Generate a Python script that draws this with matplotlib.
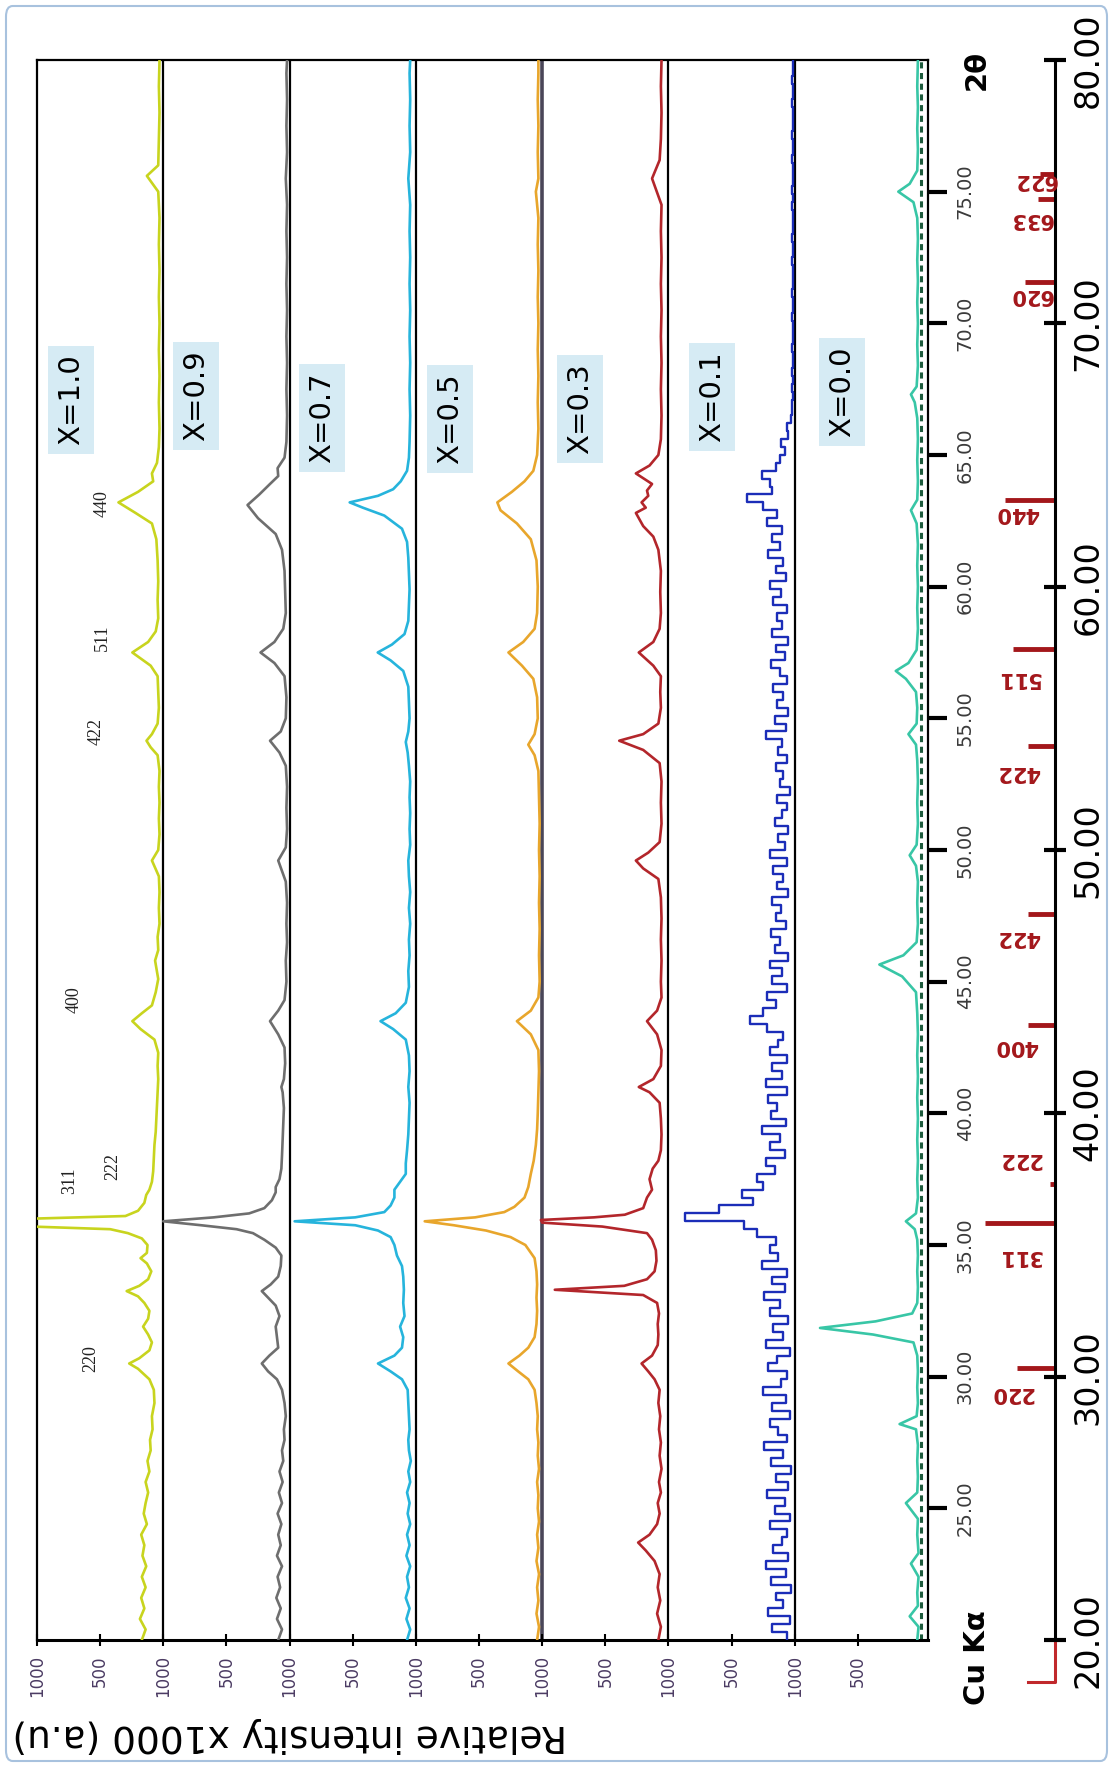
import numpy as np
import matplotlib.pyplot as plt
from matplotlib.patches import FancyBboxPatch

# ---- data: (2theta, intensity above own baseline) ----
x10 = [(20.0,170),(20.4,140),(20.8,185),(21.2,150),(21.6,175),(22.0,140),(22.4,170),(22.8,135),(23.2,165),
       (23.6,150),(24.0,175),(24.4,130),(24.8,155),(25.2,140),(25.6,120),(26.0,140),(26.4,110),(26.8,125),
       (27.2,100),(27.6,105),(28.0,85),(28.5,90),(29.0,70),(29.5,75),(29.9,110),(30.3,200),(30.5,270),
       (30.7,190),(31.0,110),(31.3,90),(31.6,120),(31.9,160),(32.2,120),(32.5,110),(32.8,150),(33.05,200),
       (33.25,290),(33.45,190),(33.7,120),(34.0,95),(34.3,130),(34.5,180),(34.7,130),(35.0,125),(35.25,170),
       (35.45,280),(35.6,420),(35.7,1040),(36.0,1040),(36.1,300),(36.3,200),(36.6,150),(36.9,135),(37.1,110),
       (37.4,90),(37.8,80),(38.3,75),(38.8,70),(39.3,60),(39.8,55),(40.3,50),(40.8,45),(41.3,40),(41.8,45),
       (42.3,40),(42.8,70),(43.2,180),(43.5,245),(43.8,170),(44.1,90),(44.6,60),(45.1,40),(45.8,65),(46.2,40),
       (46.7,45),(47.2,30),(47.8,35),(48.4,30),(49.0,35),(49.6,90),(50.0,40),(50.6,30),(51.2,35),(51.8,30),
       (52.4,35),(53.0,30),(53.6,45),(53.9,100),(54.15,133),(54.4,90),(54.8,45),(55.4,35),(56.0,40),(56.6,45),
       (57.0,100),(57.5,245),(57.9,120),(58.3,60),(58.8,40),(59.5,45),(60.2,40),(61.0,45),(61.8,55),(62.4,90),
       (62.8,220),(63.2,355),(63.6,200),(64.0,80),(64.3,90),(64.7,50),(65.3,35),(66.0,30),(67.0,35),(68.0,30),
       (69.0,35),(70.0,30),(71.0,35),(72.0,30),(73.0,35),(74.0,30),(75.0,40),(75.6,130),(76.0,40),(77.0,35),
       (78.0,30),(79.0,35),(80.0,30)]

x09 = [(20.0,90),(20.4,60),(20.8,100),(21.2,70),(21.6,105),(22.0,75),(22.4,95),(22.8,60),(23.2,100),(23.6,70),
       (24.0,90),(24.4,65),(24.8,95),(25.2,60),(25.6,85),(26.0,55),(26.4,80),(26.8,50),(27.2,60),(27.6,40),
       (28.0,45),(28.5,30),(29.0,40),(29.5,60),(29.9,100),(30.2,170),(30.5,220),(30.8,160),(31.1,90),(31.5,100),
       (31.9,110),(32.3,80),(32.7,110),(33.0,170),(33.25,220),(33.5,150),(33.8,90),(34.2,70),(34.6,65),(34.9,110),
       (35.2,200),(35.45,290),(35.6,420),(35.75,700),(35.9,1000),(36.05,600),(36.2,320),(36.4,200),(36.7,140),
       (37.0,110),(37.2,110),(37.5,80),(37.9,65),(38.4,60),(39.0,55),(39.6,50),(40.2,45),(40.8,55),(41.0,65),
       (41.3,45),(41.9,35),(42.5,40),(43.0,90),(43.5,155),(43.9,90),(44.3,40),(45.0,25),(45.8,30),(46.5,20),
       (47.2,25),(48.0,20),(48.8,30),(49.6,90),(50.1,30),(50.8,20),(51.6,25),(52.4,20),(53.2,30),(53.7,80),
       (54.15,155),(54.5,70),(55.0,30),(55.8,25),(56.6,40),(57.1,120),(57.5,230),(57.9,120),(58.4,50),(59.0,30),
       (59.8,35),(60.6,40),(61.4,60),(62.0,110),(62.6,250),(63.1,333),(63.5,240),(63.9,155),(64.2,90),(64.5,95),
       (64.9,40),(65.5,25),(66.5,20),(67.5,25),(68.5,20),(69.5,25),(70.5,20),(71.5,25),(72.5,20),(73.5,25),
       (74.5,20),(75.5,30),(76.5,20),(77.5,25),(78.5,20),(79.5,25),(80.0,20)]

x07 = [(20.0,70),(20.4,45),(20.8,75),(21.2,50),(21.6,80),(22.0,55),(22.4,70),(22.8,45),(23.2,75),(23.6,50),
       (24.0,70),(24.4,45),(24.8,65),(25.2,50),(25.6,70),(26.0,45),(26.4,60),(26.8,40),(27.2,55),(27.6,60),
       (28.0,50),(28.5,55),(29.0,60),(29.5,65),(29.9,110),(30.2,200),(30.5,300),(30.8,170),(31.1,110),(31.5,100),
       (31.9,125),(32.3,90),(32.8,100),(33.3,95),(33.8,100),(34.2,110),(34.6,150),(35.0,170),(35.3,200),
       (35.55,300),(35.75,480),(35.9,960),(36.05,480),(36.25,250),(36.5,200),(36.8,170),(37.1,170),(37.4,125),
       (37.7,80),(38.1,80),(38.6,70),(39.2,60),(39.8,55),(40.4,50),(41.0,60),(41.6,50),(42.2,55),(42.8,80),
       (43.2,180),(43.5,280),(43.8,160),(44.2,80),(44.8,55),(45.4,60),(46.0,50),(46.6,55),(47.2,45),(47.8,55),
       (48.4,45),(49.0,55),(49.6,60),(50.2,45),(50.8,50),(51.4,45),(52.0,50),(52.6,45),(53.2,55),(53.7,65),
       (54.1,80),(54.5,60),(55.0,50),(55.6,55),(56.2,60),(56.8,100),(57.2,200),(57.5,302),(57.8,190),(58.2,90),
       (58.7,60),(59.3,55),(59.9,50),(60.5,55),(61.1,60),(61.7,70),(62.2,110),(62.7,250),(63.0,420),(63.2,524),
       (63.45,300),(63.7,180),(64.0,120),(64.4,70),(64.9,55),(65.5,50),(66.5,45),(67.5,50),(68.5,45),(69.5,50),
       (70.5,45),(71.5,50),(72.5,45),(73.5,50),(74.5,45),(75.5,60),(76.5,45),(77.5,50),(78.5,45),(79.5,50),
       (80.0,45)]

x05 = [(20.0,40),(20.5,25),(21.0,45),(21.5,30),(22.0,40),(22.5,25),(23.0,45),(23.5,30),(24.0,40),(24.5,25),
       (25.0,35),(25.5,30),(26.0,40),(26.5,25),(27.0,35),(27.5,30),(28.0,40),(28.5,35),(29.0,45),(29.5,60),
       (29.9,110),(30.2,190),(30.5,267),(30.8,180),(31.1,110),(31.5,60),(32.0,45),(32.5,40),(33.0,45),(33.5,40),
       (34.0,45),(34.5,60),(35.0,133),(35.3,250),(35.55,445),(35.75,700),(35.9,930),(36.05,530),(36.25,300),
       (36.45,220),(36.8,140),(37.2,110),(37.7,90),(38.2,67),(38.8,50),(39.4,40),(40.0,35),(40.8,30),(41.6,25),
       (42.4,30),(43.0,90),(43.5,200),(43.9,90),(44.4,30),(45.0,20),(46.0,25),(47.0,20),(48.0,25),(49.0,20),
       (50.0,25),(51.0,20),(52.0,25),(53.0,30),(53.6,60),(54.0,110),(54.4,60),(55.0,35),(55.8,40),(56.5,70),
       (57.0,160),(57.5,267),(57.9,150),(58.4,60),(59.0,40),(60.0,35),(61.0,45),(61.8,90),(62.4,200),(62.9,330),
       (63.2,355),(63.6,240),(64.0,140),(64.4,70),(65.0,40),(66.0,30),(67.0,35),(68.0,30),(69.0,35),(70.0,30),
       (71.0,35),(72.0,30),(73.0,35),(74.0,30),(75.0,50),(75.5,30),(76.5,35),(77.5,30),(78.5,35),(79.5,30),
       (80.0,30)]

x03 = [(20.0,80),(20.5,60),(21.0,90),(21.5,65),(22.0,85),(22.5,70),(23.0,110),(23.4,180),(23.7,240),(24.0,150),
       (24.4,90),(24.8,70),(25.2,85),(25.6,60),(26.0,75),(26.5,55),(27.0,70),(27.5,60),(28.0,75),(28.5,65),
       (29.0,80),(29.5,70),(29.9,110),(30.2,160),(30.5,213),(30.8,130),(31.2,85),(31.6,80),(32.0,85),(32.4,75),
       (32.8,90),(33.1,200),(33.3,900),(33.45,350),(33.7,170),(34.0,110),(34.4,95),(34.8,100),(35.2,130),
       (35.45,170),(35.7,524),(35.85,1000),(35.95,1010),(36.05,590),(36.15,346),(36.4,200),(36.8,170),(37.1,130),
       (37.5,150),(37.9,125),(38.2,80),(38.6,60),(39.2,55),(39.8,60),(40.4,70),(40.8,150),(41.0,235),(41.3,120),
       (41.8,60),(42.4,55),(43.0,90),(43.5,170),(43.9,90),(44.4,55),(45.0,60),(45.8,55),(46.6,60),(47.4,55),
       (48.2,60),(48.9,80),(49.3,200),(49.6,258),(49.9,160),(50.3,70),(51.0,55),(51.8,60),(52.6,55),(53.3,70),
       (53.8,200),(54.15,390),(54.4,200),(54.8,80),(55.4,60),(56.0,65),(56.6,60),(57.0,120),(57.5,235),(57.9,120),
       (58.4,70),(59.0,60),(59.8,65),(60.6,60),(61.4,80),(61.9,120),(62.3,200),(62.8,258),(63.0,180),(63.2,213),
       (63.45,160),(63.65,170),(63.9,130),(64.3,258),(64.6,150),(65.0,80),(65.6,60),(66.5,55),(67.5,60),
       (68.5,55),(69.5,60),(70.5,55),(71.5,60),(72.5,55),(73.5,60),(74.5,55),(75.5,130),(76.2,70),(77.0,60),
       (78.0,55),(79.0,60),(80.0,55)]

# X=0.1 is a noisy step trace, 0.3 deg steps from 20 to 80
t01 = np.arange(20.0, 80.01, 0.3)
x01 = [60, 180, 40, 210, 90, 150, 30, 190, 70, 230,
       50, 170, 100, 60, 200, 40, 160, 80, 220, 50,
       150, 30, 190, 90, 240, 60, 130, 200, 40, 180,
       70, 250, 110, 60, 210, 140, 40, 230, 90, 170,
       50, 200, 120, 240, 80, 180, 60, 260, 130, 200,
       150, 300, 400, 867, 600, 330, 420, 250, 300, 160,
       230, 80, 200, 120, 260, 70, 190, 140, 210, 60,
       230, 100, 180, 60, 200, 130, 90, 220, 355, 250,
       150, 220, 60, 180, 100, 200, 50, 160, 120, 190,
       70, 150, 110, 180, 50, 140, 90, 170, 60, 200,
       80, 130, 50, 160, 100, 60, 140, 40, 120, 90,
       150, 60, 130, 100, 230, 70, 160, 50, 140, 90,
       170, 60, 120, 190, 80, 150, 50, 180, 100, 140,
       60, 170, 110, 200, 70, 150, 90, 210, 120, 180,
       100, 220, 140, 250, 377, 180, 200, 260, 150, 120,
       80, 110, 50, 60, 30, 20, 25, 15, 20, 12,
       18, 10, 15, 20, 12, 16, 10, 18, 14, 12,
       20, 10, 16, 12, 18, 10, 15, 20, 12, 16,
       10, 18, 14, 20, 12, 16, 10, 18, 12, 15,
       20, 10, 16, 12, 18, 10, 14, 20, 12, 16,
       12]

x00 = [(20.0,30),(20.5,20),(20.9,90),(21.3,25),(21.8,30),(22.4,20),(22.9,80),(23.3,20),(24.0,30),(24.6,25),
       (25.2,120),(25.6,30),(26.2,25),(26.8,30),(27.4,25),(28.0,40),(28.2,170),(28.5,35),(29.0,25),(29.6,30),
       (30.2,25),(30.8,30),(31.3,60),(31.6,380),(31.85,800),(32.1,360),(32.4,70),(32.8,30),(33.4,25),(34.0,30),
       (34.6,25),(35.2,30),(35.6,50),(35.9,120),(36.2,40),(36.8,25),(37.5,30),(38.2,25),(39.0,30),(39.8,25),
       (40.6,30),(41.4,25),(42.2,30),(43.0,25),(43.8,30),(44.6,40),(45.2,150),(45.65,330),(46.0,140),(46.5,35),
       (47.2,25),(48.0,30),(48.8,25),(49.4,40),(49.8,90),(50.2,35),(51.0,25),(51.8,30),(52.6,25),(53.4,30),
       (54.0,40),(54.4,100),(54.8,35),(55.4,30),(56.0,40),(56.5,120),(56.8,200),(57.1,100),(57.6,35),(58.4,25),
       (59.2,30),(60.0,25),(60.8,30),(61.6,25),(62.4,35),(62.9,80),(63.3,30),(64.0,25),(64.8,30),(65.6,25),
       (66.4,30),(67.0,50),(67.3,80),(67.6,35),(68.4,25),(69.2,30),(70.0,25),(70.8,30),(71.6,25),(72.4,30),
       (73.2,25),(74.0,30),(74.6,60),(75.0,180),(75.3,90),(75.8,30),(76.6,25),(77.4,30),(78.2,25),(79.0,30),
       (80.0,25)]

# reference stick pattern
hkl = ['220', '311', '222', '400', '422', '422', '511', '440', '620', '633', '622']
hkl_pos = [30.33, 35.83, 37.32, 43.36, 47.57, 53.95, 57.64, 63.3, 71.58, 74.73, 75.66]
hkl_int = [38, 70, 5, 27, 27, 27, 42, 50, 30, 17, 15]

int_ticks = [7000, 6500, 6000, 5500, 5000, 4500, 4000, 3500, 3000, 2500, 2000, 1500, 1000, 500]
int_labels = ['1000', '500'] * 7
tt_inner = [25, 30, 35, 40, 45, 50, 55, 60, 65, 70, 75]
tt_outer = [20, 30, 40, 50, 60, 70, 80]

W, H = 1113, 1767
fig = plt.figure(figsize=(W / 100, H / 100), dpi=100)

ax = fig.add_axes([37 / W, 1 - 1640 / H, 891 / W, 1580 / H])
ax.set_xlim(7000, -55)
ax.set_ylim(20, 80)

# baselines
for off in [6000, 5000, 4000, 2000, 1000]:
    ax.plot([off, off], [20, 80], color='black', lw=1.6, zorder=1)
ax.plot([3000, 3000], [20, 80], color='#4a4658', lw=2.6, zorder=1)
ax.plot([0, 0], [20, 80], color='#1d5a3c', lw=2.2, ls=(0, (2, 1.5)), zorder=1)

traces = [(x10, 6000, '#c8d41e'), (x09, 5000, '#6e6e6e'), (x07, 4000, '#26b4dc'),
          (x05, 3000, '#e8a62c'), (x03, 2000, '#b3262b'), (x00, 0, '#38c6a6')]
for pts, off, col in traces:
    t, i = np.array(pts).T
    ax.plot(off + i, t, color=col, lw=1.9, zorder=3)

# step trace along the 2theta direction (vertical here)
ys = np.repeat(t01, 2)[1:]
xs = np.repeat(1000 + np.array(x01), 2)[:-1]
ax.plot(xs, ys, color='#1b2db8', lw=1.7, zorder=3)

# composition boxes
boxes = [('X=1.0', 6731, 67.09), ('X=0.9', 5741, 67.25), ('X=0.7', 4743, 66.41),
         ('X=0.5', 3730, 66.37), ('X=0.3', 2700, 66.75), ('X=0.1', 1655, 67.21),
         ('X=0.0', 626, 67.40)]
for lab, xi, yt in boxes:
    ax.text(xi, yt, lab, rotation=90, ha='center', va='center', fontsize=21, zorder=5,
            bbox=dict(boxstyle='square,pad=0.3', fc='#d6ebf4', ec='none'))

# peak indices on the top trace
for lab, xi, yt in [('220', 6572, 30.7), ('311', 6739, 37.43), ('222', 6398, 38.0),
                    ('400', 6707, 44.3), ('422', 6533, 54.5), ('511', 6485, 58.06),
                    ('440', 6485, 63.15)]:
    ax.text(xi, yt, lab, rotation=90, ha='center', va='center', fontsize=13,
            family='Liberation Serif', color='#222222')

for s in ax.spines.values():
    s.set_linewidth(1.6)
ax.spines['bottom'].set_linewidth(2.2)
ax.yaxis.tick_right()
ax.set_yticks(tt_inner)
ax.set_yticklabels(['%.2f' % v for v in tt_inner], rotation=90, va='center', fontsize=14, color='#3a3a3a')
ax.tick_params(axis='y', direction='out', length=14, width=3, pad=6)
ax.set_xticks(int_ticks)
ax.set_xticklabels(int_labels, rotation=90, fontsize=12, color='#4b3b63')
ax.tick_params(axis='x', direction='inout', length=8, width=1.5, pad=7)

# outer 2theta axis with reference sticks
ax2 = fig.add_axes([955 / W, 1 - 1640 / H, 100 / W, 1580 / H])
ax2.set_xlim(100, 0)
ax2.set_ylim(20, 80)
ax2.patch.set_alpha(0)
for side in ['left', 'top', 'bottom']:
    ax2.spines[side].set_visible(False)
ax2.spines['right'].set_linewidth(2.2)
ax2.set_xticks([])
ax2.yaxis.tick_right()
ax2.set_yticks(tt_outer)
ax2.set_yticklabels(['%.2f' % v for v in tt_outer], rotation=90, va='center', fontsize=24)
ax2.tick_params(axis='y', direction='inout', length=16, width=3, pad=4)
ax2.hlines(hkl_pos, 0, hkl_int, color='#a3171b', lw=3.5)
lab_pos = [29.38, 34.58, 38.27, 42.56, 46.7, 52.97, 56.54, 62.8, 71.08, 73.97, 75.45]
lab_x = [43, 35, 35, 39, 37, 37, 36, 38, 24, 24, 20]
for lab, yt, xl in zip(hkl, lab_pos, lab_x):
    ax2.text(xl, yt, lab, rotation=180, ha='center', va='center', fontsize=15,
             fontweight='bold', color='#a3171b')
ax2.plot([0, 0, 27], [20, 18.4, 18.4], color='#c0282c', lw=2.2, clip_on=False)

fig.text(977 / W, 1 - 70 / H, '2θ', rotation=90, ha='center', va='center', fontsize=21, fontweight='bold')
fig.text(977 / W, 1 - 1658 / H, 'Cu Kα', rotation=90, ha='center', va='center', fontsize=21, fontweight='bold')
fig.text(290 / W, 1 - 1735 / H, 'Relative intensity x1000 (a.u)', rotation=180,
         ha='center', va='center', fontsize=27)

fig.patches.append(FancyBboxPatch((6 / W, 6 / H), 1101 / W, 1755 / H,
                                  boxstyle='round,pad=0,rounding_size=0.006',
                                  transform=fig.transFigure, fill=False, ec='#a8c2de', lw=1.5))

fig.savefig('out.png', dpi=100)
